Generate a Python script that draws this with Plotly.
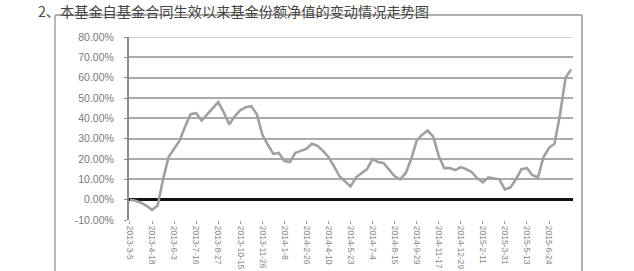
import plotly.graph_objects as go

# Net value growth (%) of the fund since inception
nav_growth = [0, -0.5, -1.5, -3, -5, -3, 10, 21, 25, 29,
              36, 42, 42.5, 39, 42, 45, 48, 43, 37, 41,
              44, 45.5, 46, 42, 32, 27, 22.5, 23, 19, 18.5,
              23, 24, 25, 27.5, 26.5, 24, 21, 16.5, 11.5, 9,
              6.5, 11, 13, 15, 20, 18.5, 18, 15, 11.5, 10,
              13, 20, 29, 32, 34, 31, 21.5, 15.5, 15.5, 14.5,
              16, 15, 13.5, 10.5, 8.5, 11, 10.5, 10, 5, 6,
              10, 15, 15.5, 12, 11, 21, 25.5, 27.5, 42, 60, 64]

tick_dates = ["2013-3-5", "2013-4-18", "2013-6-3", "2013-7-16", "2013-8-27",
              "2013-10-15", "2013-11-26", "2014-1-8", "2014-2-26", "2014-4-10",
              "2014-5-23", "2014-7-4", "2014-8-15", "2014-9-29", "2014-11-17",
              "2014-12-29", "2015-2-11", "2015-3-31", "2015-5-13", "2015-6-24"]
tick_every = 4
y_ticks = [-10, 0, 10, 20, 30, 40, 50, 60, 70, 80]
y_tick_text = ["-10.00%", "0.00%", "10.00%", "20.00%", "30.00%", "40.00%",
               "50.00%", "60.00%", "70.00%", "80.00%"]
title_text = "2、本基金自基金合同生效以来基金份额净值的变动情况走势图"

x_idx = list(range(len(nav_growth)))
tick_pos = [i * tick_every for i in range(len(tick_dates))]

fig = go.Figure()
fig.add_trace(go.Scatter(x=x_idx, y=nav_growth, mode="lines",
                         line=dict(color="#a0a0a0", width=2.6),
                         hoverinfo="skip", showlegend=False))

W, H = 634, 271
L, R, T, B = 129, 61, 37, 50.6
pw, ph = W - L - R, H - T - B

def px(xp):
    return (xp - L) / pw

def py(yp):
    return (H - B - yp) / ph

fig.update_layout(
    width=W, height=H,
    margin=dict(l=L, r=R, t=T, b=B, pad=0),
    paper_bgcolor="white", plot_bgcolor="white",
    font=dict(family="Liberation Sans, Arial", color="#777"),
    xaxis=dict(range=[-0.18, 80.35], tickvals=tick_pos, ticktext=tick_dates,
               tickangle=90, tickfont=dict(size=8.5, color="#888"),
               showgrid=False, zeroline=False, showline=False,
               ticks="outside", ticklen=3, tickcolor="#999",
               automargin=False),
    yaxis=dict(range=[-10, 80], tickvals=y_ticks, ticktext=y_tick_text,
               tickfont=dict(size=10.5, color="#7a7a7a"),
               showgrid=True, gridcolor="#ababab", gridwidth=1.6,
               zeroline=True, zerolinecolor="#111", zerolinewidth=3,
               showline=True, linecolor="#8a8a8a", linewidth=2,
               ticks="outside", ticklen=3, tickcolor="#8a8a8a",
               ticklabelstandoff=8, automargin=False),
    shapes=[
        # outer chart frame
        dict(type="line", xref="paper", yref="paper", x0=px(55), x1=px(582),
             y0=py(15), y1=py(15), line=dict(color="#b0b0b0", width=2)),
        dict(type="line", xref="paper", yref="paper", x0=px(55), x1=px(55),
             y0=py(15), y1=py(280), line=dict(color="#b8b8b8", width=2)),
        dict(type="line", xref="paper", yref="paper", x0=px(582), x1=px(582),
             y0=py(15), y1=py(280), line=dict(color="#b0b0b0", width=2)),
        # lighter top gridline
        dict(type="line", xref="paper", yref="y", x0=0, x1=1, y0=80, y1=80,
             line=dict(color="#d0d0d0", width=2)),
    ],
    annotations=[dict(text=title_text, xref="paper", yref="paper",
                      x=px(37), y=py(0), xanchor="left", yanchor="top",
                      showarrow=False, borderpad=0,
                      font=dict(family="Noto Sans CJK SC", size=14.2, color="#444"))],
)

# the page's default body margin would shift the 634x271 figure; remove it
fig.write_html("out.html", config={"displayModeBar": False},
               post_script="document.body.style.margin='0';")
